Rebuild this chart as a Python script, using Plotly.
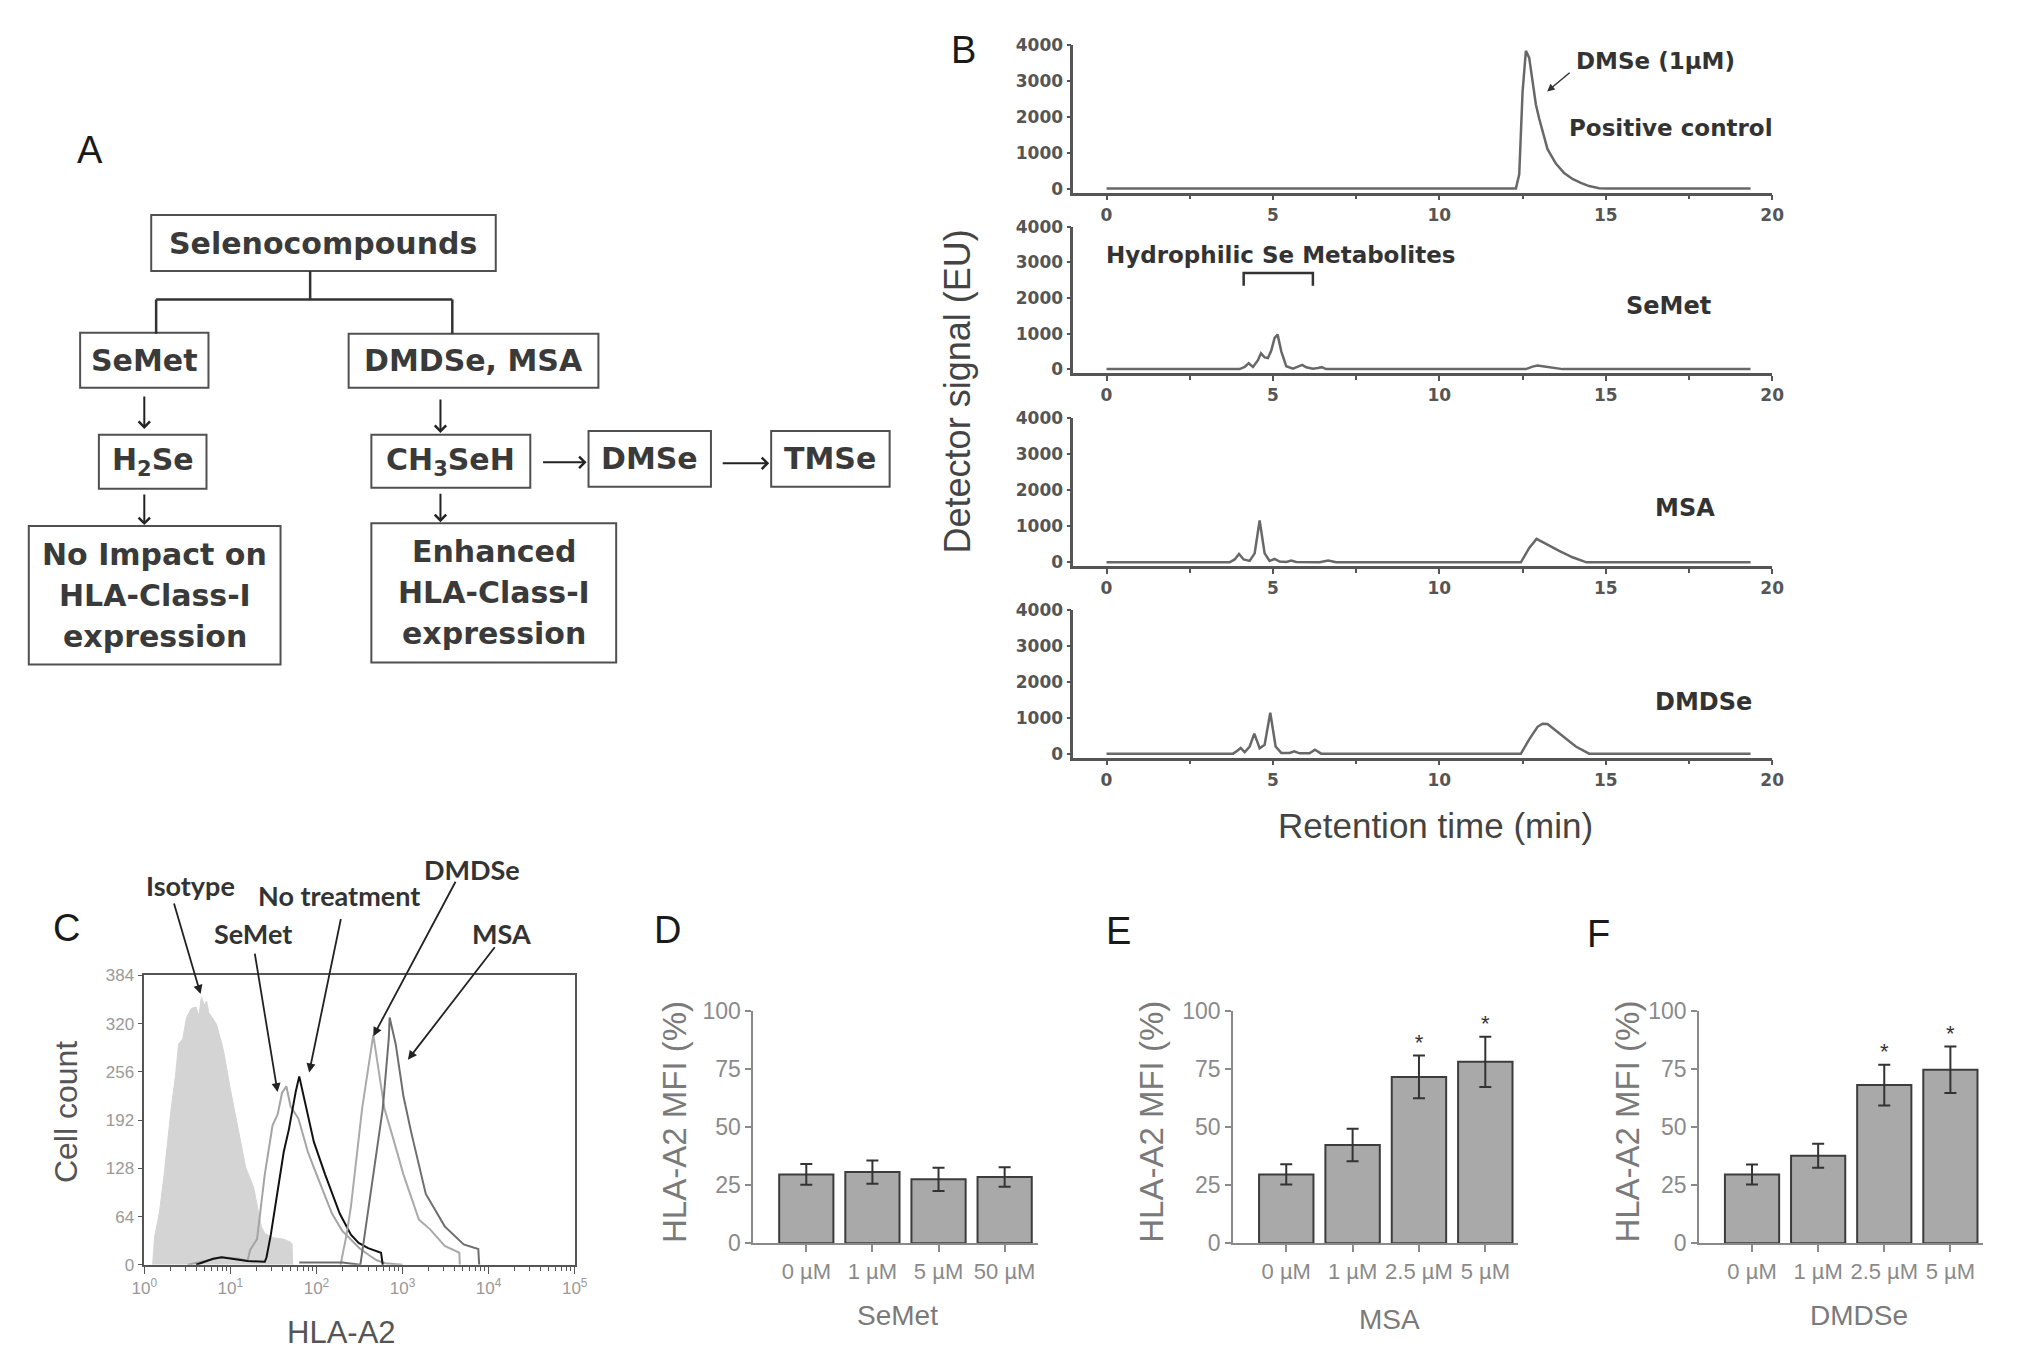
import plotly.graph_objects as go

W, H = 2031, 1370


def px(x):
    return x / W


def py(y):
    return 1 - y / H


FONT = "Liberation Sans, Arial, sans-serif"
FONT_W = "DejaVu Sans, Liberation Sans, sans-serif"
FONT_C = "Lato, Liberation Sans, sans-serif"

# ---------------- Panel B: chromatograms (retention time, detector signal) ----------------
pc_time = [0, 12.3, 12.4, 12.5, 12.6, 12.7, 12.8, 12.9, 13.0, 13.25, 13.5, 13.75, 14.0, 14.25, 14.5, 14.8, 15.0, 19.35]
pc_signal = [0, 0, 400, 2700, 3850, 3650, 3000, 2350, 1950, 1100, 700, 433, 270, 157, 70, 10, 0, 0]

semet_time = [0, 4.0, 4.15, 4.27, 4.4, 4.55, 4.64, 4.75, 4.85, 4.95, 5.05, 5.14, 5.25, 5.4, 5.6,
              5.75, 5.88, 6.0, 6.2, 6.35, 6.46, 6.6, 12.6, 12.8, 12.95, 13.1, 13.4, 13.7, 19.35]
semet_signal = [0, 0, 60, 166, 60, 250, 443, 330, 310, 520, 880, 970, 500, 80, 10,
                80, 120, 50, 10, 30, 55, 0, 0, 70, 100, 80, 40, 0, 0]

msa_time = [0, 3.7, 3.85, 3.98, 4.12, 4.3, 4.45, 4.6, 4.75, 4.9, 5.05, 5.2, 5.4, 5.55, 5.7,
            6.4, 6.66, 6.9, 12.45, 12.7, 12.92, 13.2, 13.6, 14.0, 14.42, 19.35]
msa_signal = [0, 0, 80, 230, 80, 40, 250, 1160, 250, 40, 93, 20, 10, 47, 10,
              0, 47, 0, 0, 400, 650, 510, 320, 140, 0, 0]

dmdse_time = [0, 3.8, 3.93, 4.03, 4.15, 4.3, 4.44, 4.6, 4.75, 4.92, 5.08, 5.25, 5.5, 5.64, 5.8,
              6.1, 6.26, 6.45, 12.45, 12.7, 12.95, 13.1, 13.25, 13.5, 13.8, 14.1, 14.5, 19.35]
dmdse_signal = [0, 0, 80, 158, 40, 200, 558, 150, 250, 1144, 200, 20, 20, 65, 10,
                10, 112, 0, 0, 400, 750, 837, 830, 650, 420, 200, 0, 0]

b_xticks = [0, 5, 10, 15, 20]
b_xminor = [2.5, 7.5, 12.5, 17.5]
b_yticks = [0, 1000, 2000, 3000, 4000]
bracket_x = [4.12, 6.2]
bracket_y = [2345, 2703]

# ---------------- Panel C: flow cytometry histograms (HLA-A2 fluorescence, cell count) ----------------
iso_x = [1.25, 1.32, 1.5, 1.7, 2.05, 2.3, 2.5, 2.8, 3.1, 3.5, 4.0, 4.3, 4.6, 5.0, 5.3, 5.6, 6.9, 8.3,
         10.0, 12.6, 15.1, 18.6, 22.9, 25.0, 30.9, 41.7, 50.1, 52.0, 53.0]
iso_y = [0, 38, 70, 120, 207, 250, 293, 300, 328, 340, 342, 330, 355, 345, 350, 335, 319, 285,
         233, 176, 129, 103, 51, 42, 36, 34, 30, 28, 0]

semet_x = [3.2, 5.0, 7.9, 12.6, 15.8, 17.0, 20.4, 25.1, 30.9, 35.5, 39.8, 44.7, 50.1, 61.7, 79.4,
           93.3, 125.9, 151.4, 199.5, 251.2, 316.2, 416.9, 501.2, 631.0, 1000.0]
semet_y = [0, 5, 10, 8, 5, 20, 34, 120, 185, 200, 228, 237, 210, 194, 150, 129, 90, 68,
           45, 34, 22, 12, 6, 2, 0]

notx_x = [4.0, 6.3, 7.9, 10.0, 15.8, 25.1, 26.3, 29.5, 35.5, 41.7, 47.9, 53.7, 57.5, 63.1,
          70.8, 93.3, 125.9, 186.2, 251.2, 309.0, 398.1, 562.3, 588.8]
notx_y = [0, 8, 10, 8, 5, 4, 10, 40, 100, 150, 180, 215, 230, 250, 225, 163, 120,
          68, 40, 29, 22, 16, 0]

dmdse_x = [190.5, 223.9, 251.2, 338.8, 457.1, 537.0, 616.6, 758.6, 1023.3, 1548.8, 2089.3,
           3090.3, 4570.9, 4620.0]
dmdse_y = [0, 40, 77, 207, 305, 250, 207, 172, 120, 60, 47, 25, 16, 0]

msa_x = [63.1, 200.0, 323.6, 457.1, 588.8, 691.8, 708.0, 831.8, 1023.3, 1258.9, 1548.8,
         1862.1, 3090.3, 5128.6, 7585.8, 7762.5]
msa_y = [3, 3, 0, 120, 207, 300, 328, 293, 224, 176, 133, 94, 51, 27, 21, 0]

c_yticks = [0, 64, 128, 192, 256, 320, 384]
c_xticks = [1, 10, 100, 1000, 10000, 100000]
c_xticktext = ["10<sup>0</sup>", "10<sup>1</sup>", "10<sup>2</sup>", "10<sup>3</sup>",
               "10<sup>4</sup>", "10<sup>5</sup>"]

# ---------------- Panels D-F: HLA-A2 MFI (%) bars ----------------
conc_semet = ["0 \u00b5M", "1 \u00b5M", "5 \u00b5M", "50 \u00b5M"]
semet_mfi = [29.6, 30.6, 27.5, 28.5]
semet_err = [4.5, 5.0, 5.0, 4.2]

conc_msa = ["0 \u00b5M", "1 \u00b5M", "2.5 \u00b5M", "5 \u00b5M"]
msa_mfi = [29.6, 42.2, 71.5, 78.0]
msa_err = [4.4, 7.0, 9.2, 10.8]
msa_sig = ["", "", "*", "*"]

conc_dmdse = ["0 \u00b5M", "1 \u00b5M", "2.5 \u00b5M", "5 \u00b5M"]
dmdse_mfi = [29.6, 37.6, 68.0, 74.6]
dmdse_err = [4.3, 5.2, 8.8, 10.0]
dmdse_sig = ["", "", "*", "*"]

mfi_yticks = [0, 25, 50, 75, 100]

fig = go.Figure()

# ---- Panel B traces
B_COLOR = "#686868"
for i, (t, s) in enumerate([(pc_time, pc_signal), (semet_time, semet_signal),
                            (msa_time, msa_signal), (dmdse_time, dmdse_signal)]):
    n = "" if i == 0 else str(i + 1)
    fig.add_trace(go.Scatter(x=t, y=s, mode="lines", line=dict(color=B_COLOR, width=2.5),
                             xaxis="x" + n, yaxis="y" + n, showlegend=False, hoverinfo="skip"))

# ---- Panel C traces
fig.add_trace(go.Scatter(x=iso_x, y=iso_y, mode="lines", fill="tozeroy", fillcolor="#d4d4d4",
                         line=dict(color="#d4d4d4", width=1), xaxis="x5", yaxis="y5", showlegend=False))
fig.add_trace(go.Scatter(x=semet_x, y=semet_y, mode="lines", line=dict(color="#a4a4a4", width=2),
                         xaxis="x5", yaxis="y5", showlegend=False))
fig.add_trace(go.Scatter(x=notx_x, y=notx_y, mode="lines", line=dict(color="#111111", width=2),
                         xaxis="x5", yaxis="y5", showlegend=False))
fig.add_trace(go.Scatter(x=dmdse_x, y=dmdse_y, mode="lines", line=dict(color="#aaaaaa", width=2),
                         xaxis="x5", yaxis="y5", showlegend=False))
fig.add_trace(go.Scatter(x=msa_x, y=msa_y, mode="lines", line=dict(color="#6e6e6e", width=2),
                         xaxis="x5", yaxis="y5", showlegend=False))

# ---- Panels D-F traces
BAR_FILL = "#a9a9a9"
BAR_LINE = "#3c3c3c"
for cats, vals, errs, sig, n in [(conc_semet, semet_mfi, semet_err, None, "6"),
                                 (conc_msa, msa_mfi, msa_err, msa_sig, "7"),
                                 (conc_dmdse, dmdse_mfi, dmdse_err, dmdse_sig, "8")]:
    fig.add_trace(go.Bar(x=cats, y=vals, width=0.82,
                         marker=dict(color=BAR_FILL, line=dict(color=BAR_LINE, width=2)),
                         error_y=dict(type="data", array=errs, color="#333333", thickness=2, width=6),
                         xaxis="x" + n, yaxis="y" + n, showlegend=False))
    if sig is not None:
        keep = [i for i, s in enumerate(sig) if s]
        fig.add_trace(go.Scatter(x=[cats[i] for i in keep], y=[vals[i] + errs[i] for i in keep],
                                 mode="text", text=[sig[i] for i in keep], textposition="top center",
                                 textfont=dict(family=FONT, size=22, color="#333333"),
                                 xaxis="x" + n, yaxis="y" + n, showlegend=False))

layout = dict(width=W, height=H, margin=dict(l=0, r=0, t=0, b=0), autosize=False,
              paper_bgcolor="white", plot_bgcolor="white", showlegend=False,
              font=dict(family=FONT, color="#444444"))

# Panel B axes
b_boxes = [(33, 183), (218, 367), (413, 564), (609, 759)]
for i, (top, bot) in enumerate(b_boxes):
    n = "" if i == 0 else str(i + 1)
    layout["xaxis" + n] = dict(domain=[px(1074), px(1782)], range=[-1.0, 20], anchor="y" + n,
                               showline=True, linecolor="#555555", linewidth=2.5, ticks="outside",
                               ticklen=5, tickwidth=2, tickcolor="#555555", tickvals=b_xticks,
                               minor=dict(tickvals=b_xminor, ticks="outside", ticklen=4, tickcolor="#555555"),
                               tickfont=dict(family=FONT_W, size=17, color="#555555", weight="bold"),
                               showgrid=False, zeroline=False)
    layout["yaxis" + n] = dict(domain=[py(bot), py(top)], range=[-110, 4000], anchor="x" + n,
                               showline=True, linecolor="#555555", linewidth=2.5, ticks="outside",
                               ticklen=4, tickwidth=2, tickcolor="#555555", tickvals=b_yticks,
                               tickfont=dict(family=FONT_W, size=17, color="#555555", weight="bold"),
                               showgrid=False, zeroline=False)

# Panel C axes
minor_log = [m * 10 ** k for k in range(5) for m in range(2, 10)]
layout["xaxis5"] = dict(domain=[px(133), px(569)], type="log", range=[0, 5], anchor="y5",
                        showline=True, mirror=True, linecolor="#555555", linewidth=1.5,
                        ticks="outside", ticklen=7, tickcolor="#555555", tickvals=c_xticks,
                        ticktext=c_xticktext,
                        minor=dict(tickvals=minor_log, ticks="outside", ticklen=4, tickcolor="#555555"),
                        tickfont=dict(size=17, color="#999999"), showgrid=False, zeroline=False)
layout["yaxis5"] = dict(domain=[py(1276), py(981)], range=[0, 384], anchor="x5",
                        showline=True, mirror=True, linecolor="#555555", linewidth=1.5,
                        ticks="outside", ticklen=5, tickcolor="#555555", tickvals=c_yticks,
                        tickfont=dict(size=17, color="#999999"), showgrid=False, zeroline=False)

# Panels D-F axes
for n, x0, x1 in [("6", 750, 1038), ("7", 1236, 1525), ("8", 1708, 1996)]:
    layout["xaxis" + n] = dict(domain=[px(x0), px(x1)], range=[-0.8, 3.5], anchor="y" + n,
                               type="category", showline=True, linecolor="#8a8a8a", linewidth=2,
                               ticks="outside", ticklen=7, tickwidth=2, tickcolor="#8a8a8a",
                               tickfont=dict(size=22, color="#8a8a8a"), showgrid=False, zeroline=False)
    layout["yaxis" + n] = dict(domain=[py(1254), py(1017)], range=[0, 100], anchor="x" + n,
                               showline=True, linecolor="#8a8a8a", linewidth=2, ticks="outside",
                               ticklen=6, tickwidth=2, tickcolor="#8a8a8a", tickvals=mfi_yticks,
                               tickfont=dict(size=23, color="#8a8a8a"), showgrid=False, zeroline=False)

shapes = []
annotations = []


def text(x, y, s, size, color="#333333", bold=False, family=FONT, angle=0, xanchor="center"):
    annotations.append(dict(x=px(x), y=py(y), xref="paper", yref="paper", text=s, showarrow=False,
                            xanchor=xanchor, yanchor="middle", textangle=angle,
                            font=dict(family=family, size=size, color=color,
                                      weight="bold" if bold else "normal")))


def arrow(tx, ty, hx, hy, color="#333333", width=2, head=2, size=1.0):
    annotations.append(dict(x=px(hx), y=py(hy), xref="paper", yref="paper", ax=tx - hx, ay=ty - hy,
                            axref="pixel", ayref="pixel", text="", showarrow=True, arrowhead=head,
                            arrowsize=size, arrowwidth=width, arrowcolor=color))


# Panel letters
for lbl, x, y in [("A", 78, 140), ("B", 963, 38), ("C", 54, 933), ("D", 663, 935),
                  ("E", 1120, 936), ("F", 1606, 939)]:
    text(x, y, lbl, 38, color="#1a1a1a")

# Panel A flow chart
boxes = [
    (140, 206, 489, 263, ["Selenocompounds"]),
    (68, 326, 198, 382, ["SeMet"]),
    (340, 327, 593, 382, ["DMDSe, MSA"]),
    (87, 430, 196, 485, ["H<sub>2</sub>Se"]),
    (363, 430, 524, 484, ["CH<sub>3</sub>SeH"]),
    (583, 426, 707, 483, ["DMSe"]),
    (768, 426, 888, 483, ["TMSe"]),
    (16, 523, 271, 664, ["No Impact on", "HLA-Class-I", "expression"]),
    (363, 520, 611, 662, ["Enhanced", "HLA-Class-I", "expression"]),
]
LINE_GAP = 42
for x0, y0, x1, y1, lines in boxes:
    shapes.append(dict(type="rect", xref="paper", yref="paper", x0=px(x0), x1=px(x1), y0=py(y1), y1=py(y0),
                       line=dict(color="#505050", width=2), fillcolor="rgba(0,0,0,0)"))
    cy = (y0 + y1) / 2
    for k, s in enumerate(lines):
        off = (k - (len(lines) - 1) / 2) * LINE_GAP
        text((x0 + x1) / 2, cy + off, s, 30, color="#3a3a3a", bold=True, family=FONT_W)

for x0, y0, x1, y1 in [(301, 263, 301, 292), (145, 292, 445, 292), (145, 292, 145, 327), (445, 292, 445, 327)]:
    shapes.append(dict(type="line", xref="paper", yref="paper", x0=px(x0), x1=px(x1), y0=py(y0), y1=py(y1),
                       line=dict(color="#333333", width=2.5)))

for tx, ty, hx, hy in [(133, 390, 133, 424), (133, 490, 133, 522), (433, 393, 433, 428),
                       (536, 458, 581, 458), (718, 459, 766, 459), (433, 489, 433, 519)]:
    arrow(tx, ty, hx, hy, color="#222222", width=2, head=4, size=1.1)

# Panel B labels
text(957, 386, "Detector signal (EU)", 36, color="#444444", angle=-90)
text(1441, 828, "Retention time (min)", 35, color="#444444")
text(1664, 49, "DMSe (1\u03bcM)", 23, color="#333333", bold=True, family=FONT_W)
arrow(1578, 60, 1554, 80, color="#333333", width=1.5, head=2, size=1.0)
text(1679, 117, "Positive control", 23, color="#333333", bold=True, family=FONT_W)
text(1105, 247, "Hydrophilic Se Metabolites", 23, color="#333333", bold=True, family=FONT_W, xanchor="left")
text(1677, 299, "SeMet", 24, color="#333333", bold=True, family=FONT_W)
text(1694, 505, "MSA", 24, color="#333333", bold=True, family=FONT_W)
text(1712, 702, "DMDSe", 24, color="#333333", bold=True, family=FONT_W)
shapes.append(dict(type="path", xref="x2", yref="y2",
                   path=f"M {bracket_x[0]},{bracket_y[0]} L {bracket_x[0]},{bracket_y[1]} "
                        f"L {bracket_x[1]},{bracket_y[1]} L {bracket_x[1]},{bracket_y[0]}",
                   line=dict(color="#333333", width=2.5)))

# Panel C labels
text(53, 1120, "Cell count", 32, color="#555555", angle=-90)
text(333, 1345, "HLA-A2", 31, color="#555555")
for s, x, y in [("Isotype", 180, 889), ("No treatment", 330, 900), ("SeMet", 243, 938),
                ("DMDSe", 465, 873), ("MSA", 495, 938)]:
    text(x, y, s, 27, color="#333333", bold=True, family=FONT_C)
for tx, ty, hx, hy in [(163, 908, 190, 1000), (245, 960, 268, 1100), (332, 925, 300, 1080),
                       (448, 887, 365, 1043), (488, 953, 400, 1067)]:
    arrow(tx, ty, hx, hy, color="#222222", width=1.8, head=2, size=1.0)

# Panels D-F labels
for x in [670, 1153, 1635]:
    text(x, 1130, "HLA-A2 MFI (%)", 33, color="#7a7a7a", angle=-90)
text(896, 1328, "SeMet", 28, color="#7a7a7a")
text(1394, 1332, "MSA", 28, color="#7a7a7a")
text(1870, 1328, "DMDSe", 28, color="#7a7a7a")

layout["shapes"] = shapes
layout["annotations"] = annotations
fig.update_layout(**layout)
fig.write_html("out.html", config={"displayModeBar": False},
               post_script="document.body.style.margin='0px';")
